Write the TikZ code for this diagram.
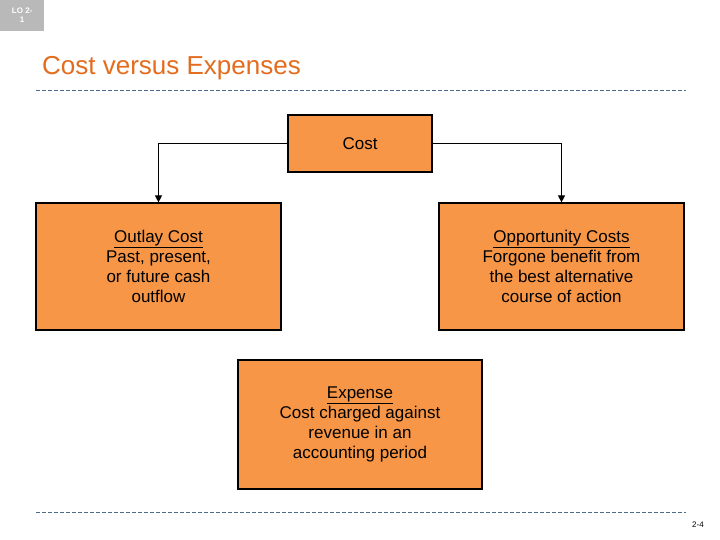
\documentclass[tikz,border=0pt]{standalone}
\usepackage{fontspec}
\setmainfont{Liberation Sans}
\usetikzlibrary{arrows.meta}
\definecolor{boxor}{HTML}{F79646}
\definecolor{titleor}{HTML}{E36C1E}
\definecolor{dashc}{HTML}{4F6B8A}
\begin{document}
\begin{tikzpicture}[x=1pt,y=-1pt,
  boxx/.style={draw=black,line width=1.2pt,fill=boxor,align=center,font=\fontsize{17}{20}\selectfont,inner sep=0pt},
  conn/.style={line width=1.2pt,-{Triangle[length=7pt,width=7pt]}},
  sep/.style={dash pattern=on 4pt off 2pt,draw=dashc,line width=0.7pt}]
\useasboundingbox (0,0) rectangle (720,540);
\fill[white] (0,0) rectangle (720,540);
\node[fill=gray!55,minimum width=44pt,minimum height=31pt,anchor=north west,text=white,align=center,font=\bfseries\fontsize{8}{9}\selectfont,inner sep=0pt] (lo) at (0,0) {LO 2-\\1};
\node[anchor=west,text=titleor,font=\fontsize{26}{30}\selectfont,inner sep=0pt] (title) at (42,68) {Cost versus Expenses};
\draw[sep] (36,90) -- (686,90);
\draw[sep] (36,512) -- (686,512);
\node[boxx,minimum width=144pt,minimum height=57pt] (cost) at (360,143.5) {Cost};
\node[boxx,minimum width=245pt,minimum height=127pt] (out) at (158.5,266.5) {\underline{Outlay Cost}\\Past, present,\\or future cash\\outflow};
\node[boxx,minimum width=245pt,minimum height=127pt] (opp) at (561.5,266.5) {\underline{Opportunity Costs}\\Forgone benefit from\\the best alternative\\course of action};
\node[boxx,minimum width=244pt,minimum height=129pt] (exp) at (360,424.5) {\underline{Expense}\\Cost charged against\\revenue in an\\accounting period};
\draw[conn] (cost.west) -| (out.north);
\draw[conn] (cost.east) -| (opp.north);
\node[font=\fontsize{8}{9}\selectfont,inner sep=0pt] (pg) at (698,525) {2-4};
\end{tikzpicture}
\end{document}
